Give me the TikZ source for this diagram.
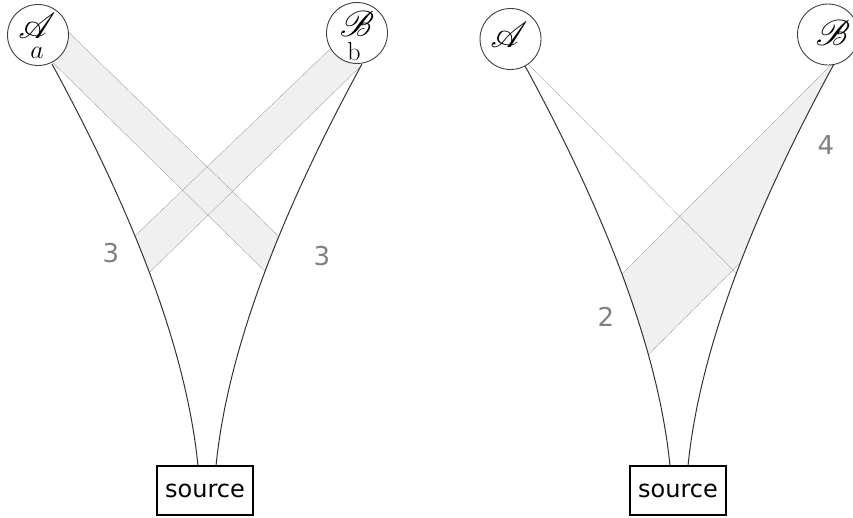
\documentclass[tikz,border=0pt]{standalone}
\usepackage{fontspec}
\setsansfont{DejaVu Sans}
\usepackage{mathrsfs}
\begin{document}
\begin{tikzpicture}[x=1pt,y=-1pt,
  agent/.style={circle,draw=black!75,line width=0.9pt,fill=white,minimum size=61pt,inner sep=0pt},
  src/.style={draw=black,line width=1.8pt,fill=white,minimum width=96pt,minimum height=49pt,inner sep=0pt,font=\sffamily\fontsize{24}{28}\selectfont},
  wire/.style={draw=black!80,line width=1pt},
  beamfill/.style={fill=black!6},
  beamedge/.style={draw=black!40,line width=0.5pt,dash pattern=on 1pt off 0.6pt},
  num/.style={text=black!50,font=\sffamily\fontsize{26}{30}\selectfont},
  letter/.style={font=\Huge,inner sep=0pt},
  sub/.style={font=\huge,inner sep=0pt}]
\useasboundingbox (0,0) rectangle (853,517);

% ---------- left diagram coordinates ----------
\coordinate (LA0) at (52,64);
\coordinate (LAc1) at (138,222);
\coordinate (LAc2) at (187,355);
\coordinate (LA1) at (198,466);
\coordinate (LB0) at (362,64);
\coordinate (LBc1) at (276,222);
\coordinate (LBc2) at (227,355);
\coordinate (LB1) at (216,466);
% beams
\coordinate (au0) at (55,19);   \coordinate (au1) at (300,257);
\coordinate (al0) at (39,49);   \coordinate (al1) at (285,291);
\coordinate (bu0) at (342,37.6); \coordinate (bu1) at (110,259.8);
\coordinate (bl0) at (374,53.3); \coordinate (bl1) at (125,296.3);

\begin{scope}
  \clip (LA0) .. controls (LAc1) and (LAc2) .. (LA1) -- (LB1) .. controls (LBc2) and (LBc1) .. (LB0) -- (362,0) -- (52,0) -- cycle;
  \fill[beamfill] (au0) -- (au1) -- (al1) -- (al0) -- cycle;
  \fill[beamfill] (bu0) -- (bu1) -- (bl1) -- (bl0) -- cycle;
  \draw[beamedge] (au0) -- (au1);
  \draw[beamedge] (al0) -- (al1);
  \draw[beamedge] (bu0) -- (bu1);
  \draw[beamedge] (bl0) -- (bl1);
\end{scope}

\draw[wire] (LA0) .. controls (LAc1) and (LAc2) .. (LA1);
\draw[wire] (LB0) .. controls (LBc1) and (LBc2) .. (LB1);

\node[agent] (A1) at (38,35) {};
\node[agent] (B1) at (357,33) {};
\node[letter] (A1l) at (37,26) {\scalebox{1.45}{$\mathscr{A}$}};
\node[sub] (A1s) at (37,53) {\scalebox{1.25}{$a$}};
\node[letter] (B1l) at (357,24) {\scalebox{1.45}{$\mathscr{B}$}};
\node[sub] (B1s) at (354,52) {\scalebox{1.25}{b}};
\node[src] (S1) at (205,490.5) {source};
\node[num] (n1) at (111,253) {3};
\node[num] (n2) at (322,256) {3};

% ---------- right diagram coordinates ----------
\coordinate (RA0) at (524,64);
\coordinate (RAc1) at (610,222);
\coordinate (RAc2) at (659,355);
\coordinate (RA1) at (670,466);
\coordinate (RB0) at (834,64);
\coordinate (RBc1) at (748,222);
\coordinate (RBc2) at (699,355);
\coordinate (RB1) at (688,466);
\coordinate (ra0) at (515,51);  \coordinate (ra1) at (760,297);
\coordinate (rbu0) at (870,26); \coordinate (rbu1) at (580,316);
\coordinate (rbl0) at (880,123); \coordinate (rbl1) at (560,443);

\begin{scope}
  \clip (RA0) .. controls (RAc1) and (RAc2) .. (RA1) -- (RB1) .. controls (RBc2) and (RBc1) .. (RB0) -- (834,20) -- (524,20) -- cycle;
  \fill[beamfill] (rbu0) -- (rbu1) -- (rbl1) -- (rbl0) -- cycle;
  \draw[beamedge] (rbu0) -- (rbu1);
  \draw[beamedge] (rbl0) -- (rbl1);
  \draw[beamedge] (ra0) -- (ra1);
\end{scope}

\draw[wire] (RA0) .. controls (RAc1) and (RAc2) .. (RA1);
\draw[wire] (RB0) .. controls (RBc1) and (RBc2) .. (RB1);

\node[agent] (A2) at (510.5,39) {};
\node[agent] (B2) at (828,34.5) {};
\node[letter] (A2l) at (509,35) {\scalebox{1.45}{$\mathscr{A}$}};
\node[letter] (B2l) at (833,33) {\scalebox{1.45}{$\mathscr{B}$}};
\node[src] (S2) at (678,490.5) {source};
\node[num] (n3) at (606,317) {2};
\node[num] (n4) at (826,145) {4};
\end{tikzpicture}
\end{document}
